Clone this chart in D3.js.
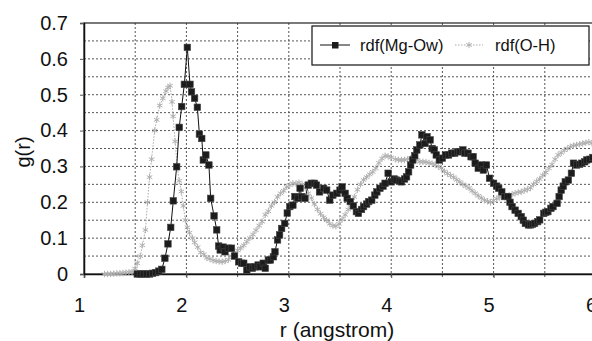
<!DOCTYPE html>
<html>
<head>
<meta charset="utf-8">
<script src="https://cdn.jsdelivr.net/npm/d3@7"></script>
<style>
  html, body { margin: 0; padding: 0; background: #fff; overflow: hidden; }
  #rdfChart { width: 592px; height: 341px; }
  text { font-family: "Liberation Sans", Arial, sans-serif; fill: #111; }
</style>
</head>
<body>
<div id="rdfChart"></div>
<script>
// tick values / labels
const xTicks = [1, 2, 3, 4, 5, 6];
const xGrid = [1.5, 2, 2.5, 3, 3.5, 4, 4.5, 5, 5.5, 6];
const yTicks = [0, 0.1, 0.2, 0.3, 0.4, 0.5, 0.6, 0.7];
const yTickLabels = ["0", "0.1", "0.2", "0.3", "0.4", "0.5", "0.6", "0.7"];
const yGrid = [0.05, 0.1, 0.15, 0.2, 0.25, 0.3, 0.35, 0.4, 0.45, 0.5, 0.55, 0.6, 0.65];
const seriesNames = ["rdf(Mg-Ow)", "rdf(O-H)"];
const xTitle = "r (angstrom)";
const yTitle = "g(r)";

// rdf(Mg-Ow): [r, g(r)]
const rdfMgOw = [
  [1.52,0],[1.55,0],[1.58,0],[1.61,0],[1.64,0],[1.67,0.002],[1.70,0.004],[1.73,0.008],[1.76,0.013],
  [1.79,0.044],[1.82,0.084],[1.847,0.13],[1.872,0.204],[1.905,0.299],[1.93,0.409],[1.954,0.467],
  [1.98,0.529],[2.009,0.632],[2.035,0.529],[2.05,0.508],[2.08,0.49],[2.107,0.465],[2.127,0.39],
  [2.15,0.378],[2.165,0.318],[2.19,0.332],[2.22,0.304],[2.237,0.211],[2.27,0.162],[2.296,0.123],
  [2.315,0.078],[2.33,0.067],[2.36,0.075],[2.377,0.062],[2.41,0.072],[2.44,0.072],[2.47,0.05],
  [2.51,0.034],[2.54,0.03],[2.56,0.03],[2.59,0.011],[2.62,0.02],[2.645,0.016],[2.67,0.02],[2.70,0.025],
  [2.72,0.02],[2.75,0.03],[2.77,0.016],[2.80,0.039],[2.82,0.039],[2.85,0.048],[2.865,0.062],[2.89,0.095],
  [2.91,0.109],[2.93,0.127],[2.96,0.141],[2.985,0.17],[3.01,0.188],[3.04,0.192],[3.06,0.216],[3.09,0.211],
  [3.11,0.239],[3.126,0.216],[3.158,0.211],[3.19,0.248],[3.22,0.253],[3.25,0.253],[3.27,0.248],[3.30,0.229],
  [3.34,0.239],[3.37,0.234],[3.40,0.206],[3.43,0.22],[3.47,0.225],[3.50,0.234],[3.52,0.243],[3.55,0.225],
  [3.57,0.211],[3.60,0.202],[3.63,0.19],[3.66,0.174],[3.68,0.169],[3.71,0.18],[3.73,0.188],[3.76,0.195],
  [3.78,0.202],[3.81,0.206],[3.84,0.22],[3.86,0.229],[3.89,0.239],[3.92,0.245],[3.94,0.253],[3.97,0.281],
  [4.0,0.257],[4.03,0.265],[4.05,0.262],[4.08,0.26],[4.10,0.257],[4.13,0.265],[4.15,0.271],[4.17,0.285],
  [4.19,0.304],[4.21,0.318],[4.23,0.33],[4.25,0.346],[4.28,0.36],[4.30,0.388],[4.33,0.364],[4.35,0.383],
  [4.38,0.374],[4.40,0.35],[4.42,0.346],[4.44,0.332],[4.47,0.318],[4.50,0.323],[4.53,0.332],[4.56,0.332],
  [4.59,0.337],[4.62,0.337],[4.65,0.341],[4.67,0.341],[4.70,0.346],[4.72,0.337],[4.75,0.337],[4.78,0.327],
  [4.80,0.327],[4.82,0.309],[4.85,0.295],[4.88,0.304],[4.90,0.29],[4.93,0.304],[4.96,0.267],[5.0,0.253],
  [5.03,0.245],[5.05,0.239],[5.08,0.229],[5.11,0.216],[5.14,0.216],[5.16,0.2],[5.18,0.188],[5.21,0.178],
  [5.24,0.169],[5.27,0.16],[5.29,0.15],[5.31,0.141],[5.34,0.137],[5.36,0.137],[5.38,0.139],[5.40,0.141],
  [5.43,0.146],[5.45,0.151],[5.49,0.169],[5.51,0.172],[5.53,0.174],[5.56,0.183],[5.58,0.188],[5.62,0.197],
  [5.64,0.216],[5.66,0.234],[5.68,0.245],[5.70,0.257],[5.73,0.262],[5.76,0.281],[5.78,0.309],[5.81,0.304],
  [5.84,0.306],[5.86,0.309],[5.89,0.313],[5.91,0.318],[5.94,0.32],[5.97,0.325],[6.0,0.33]
];

// rdf(O-H): [r, g(r)]
const rdfOH = [
  [1.20,0],[1.23,0],[1.26,0],[1.29,0.001],[1.32,0.002],[1.35,0.002],[1.38,0.003],[1.41,0.004],[1.44,0.005],
  [1.47,0.006],[1.50,0.015],[1.52,0.03],[1.55,0.05],[1.57,0.08],[1.60,0.123],[1.62,0.2],[1.64,0.27],
  [1.66,0.32],[1.69,0.40],[1.71,0.43],[1.74,0.47],[1.77,0.49],[1.80,0.51],[1.82,0.52],[1.84,0.525],
  [1.86,0.48],[1.87,0.44],[1.89,0.37],[1.91,0.30],[1.93,0.26],[1.95,0.23],[1.97,0.19],[1.99,0.15],
  [2.01,0.13],[2.03,0.115],[2.06,0.10],[2.08,0.088],[2.11,0.075],[2.14,0.06],[2.17,0.055],[2.20,0.045],
  [2.23,0.042],[2.26,0.038],[2.29,0.036],[2.32,0.035],[2.35,0.034],[2.38,0.036],[2.41,0.04],[2.44,0.05],
  [2.47,0.058],[2.50,0.066],[2.53,0.072],[2.56,0.08],[2.59,0.09],[2.62,0.10],[2.65,0.11],[2.68,0.122],
  [2.71,0.135],[2.74,0.146],[2.77,0.165],[2.80,0.175],[2.83,0.19],[2.86,0.2],[2.89,0.215],[2.92,0.225],
  [2.95,0.232],[2.98,0.243],[3.01,0.248],[3.04,0.253],[3.07,0.252],[3.10,0.255],[3.13,0.25],[3.16,0.24],
  [3.19,0.225],[3.22,0.212],[3.25,0.195],[3.28,0.18],[3.31,0.168],[3.34,0.158],[3.37,0.15],[3.40,0.14],
  [3.43,0.135],[3.46,0.133],[3.49,0.14],[3.52,0.152],[3.55,0.165],[3.58,0.18],[3.61,0.195],[3.64,0.215],
  [3.67,0.235],[3.70,0.25],[3.73,0.262],[3.76,0.27],[3.79,0.278],[3.82,0.285],[3.85,0.295],[3.88,0.31],
  [3.91,0.322],[3.94,0.33],[3.97,0.328],[4.00,0.325],[4.04,0.32],[4.07,0.318],[4.10,0.318],[4.13,0.318],
  [4.16,0.32],[4.19,0.323],[4.22,0.322],[4.25,0.318],[4.28,0.313],[4.31,0.313],[4.34,0.312],[4.37,0.31],
  [4.40,0.308],[4.43,0.305],[4.46,0.30],[4.49,0.295],[4.52,0.286],[4.55,0.28],[4.58,0.275],[4.61,0.27],
  [4.64,0.263],[4.67,0.257],[4.70,0.25],[4.73,0.245],[4.76,0.24],[4.79,0.232],[4.82,0.225],[4.85,0.218],
  [4.88,0.212],[4.91,0.206],[4.94,0.203],[4.97,0.2],[5.00,0.205],[5.03,0.21],[5.06,0.214],[5.09,0.216],
  [5.12,0.218],[5.15,0.22],[5.18,0.222],[5.21,0.225],[5.24,0.228],[5.27,0.229],[5.30,0.233],[5.33,0.236],
  [5.36,0.24],[5.39,0.25],[5.42,0.258],[5.45,0.265],[5.48,0.275],[5.51,0.283],[5.54,0.295],[5.57,0.305],
  [5.60,0.32],[5.63,0.332],[5.66,0.338],[5.69,0.345],[5.72,0.35],[5.75,0.355],[5.78,0.358],[5.81,0.36],
  [5.84,0.362],[5.87,0.364],[5.90,0.366],[5.93,0.368],[5.96,0.365],[6.0,0.36]
];

const width = 592, height = 341;
const margin = { top: 23, left: 84 };
const plotW = 512, plotH = 251;   // plot runs a little past the right edge

const svg = d3.select("#rdfChart")
  .append("svg")
  .attr("width", width)
  .attr("height", height);

const g = svg.append("g")
  .attr("transform", "translate(" + margin.left + "," + margin.top + ")");

const x = d3.scaleLinear().domain([1, 6]).range([0, plotW]);
const y = d3.scaleLinear().domain([0, 0.7]).range([plotH, 0]);

// grid lines (dotted)
g.append("g").selectAll("line").data(yGrid).enter().append("line")
  .attr("x1", 0).attr("x2", plotW)
  .attr("y1", d => y(d)).attr("y2", d => y(d))
  .attr("stroke", "#555").attr("stroke-width", 1).attr("stroke-dasharray", "2,2");
g.append("g").selectAll("line").data(xGrid).enter().append("line")
  .attr("x1", d => x(d)).attr("x2", d => x(d))
  .attr("y1", 0).attr("y2", plotH + 3)
  .attr("stroke", "#555").attr("stroke-width", 1).attr("stroke-dasharray", "2,2");

// frame
g.append("rect")
  .attr("x", 0).attr("y", 0).attr("width", plotW).attr("height", plotH)
  .attr("fill", "none").attr("stroke", "#222").attr("stroke-width", 1.2);

// axes
const xAxis = d3.axisBottom(x).tickValues(xTicks).tickFormat(d3.format("d"))
  .tickSize(4).tickPadding(20);
g.append("g")
  .attr("class", "xaxis")
  .attr("transform", "translate(0," + plotH + ")")
  .call(xAxis);

const yAxis = d3.axisLeft(y).tickValues(yTicks).tickFormat((d, i) => yTickLabels[i])
  .tickSize(4).tickPadding(12);
g.append("g")
  .attr("class", "yaxis")
  .call(yAxis);

svg.selectAll(".xaxis .domain, .yaxis .domain").attr("stroke", "#111").attr("stroke-width", 1.5);
svg.selectAll(".xaxis .tick line, .yaxis .tick line").attr("stroke", "#555");
svg.selectAll(".xaxis text").attr("font-size", 20).attr("dx", -5)
  .style("font-family", '"Liberation Sans", Arial, sans-serif').attr("fill", "#111");
svg.selectAll(".yaxis text").attr("font-size", 20)
  .style("font-family", '"Liberation Sans", Arial, sans-serif').attr("fill", "#111");

// axis titles
svg.append("text")
  .attr("x", margin.left + plotW / 2 - 3)
  .attr("y", 337)
  .attr("text-anchor", "middle")
  .attr("font-size", 21)
  .text(xTitle);

svg.append("text")
  .attr("transform", "translate(30," + 152 + ") rotate(-90)")
  .attr("text-anchor", "middle")
  .attr("font-size", 20)
  .text(yTitle);

const line = d3.line().x(d => x(d[0])).y(d => y(d[1]));

// rdf(O-H): light grey, dotted line, asterisk markers
g.append("path")
  .datum(rdfOH)
  .attr("d", line)
  .attr("fill", "none")
  .attr("stroke", "#aaa")
  .attr("stroke-width", 1)
  .attr("stroke-dasharray", "1.5,1.5");

const star = d3.symbol().type(d3.symbolAsterisk).size(28);
g.append("g").selectAll("path").data(rdfOH).enter().append("path")
  .attr("d", star)
  .attr("transform", d => "translate(" + x(d[0]) + "," + y(d[1]) + ")")
  .attr("fill", "none")
  .attr("stroke", "#b0b0b0")
  .attr("stroke-width", 1);

// rdf(Mg-Ow): black line, square markers
g.append("path")
  .datum(rdfMgOw)
  .attr("d", line)
  .attr("fill", "none")
  .attr("stroke", "#111")
  .attr("stroke-width", 1);

g.append("g").selectAll("rect").data(rdfMgOw).enter().append("rect")
  .attr("x", d => x(d[0]) - 3.25)
  .attr("y", d => y(d[1]) - 3.25)
  .attr("width", 6.5)
  .attr("height", 6.5)
  .attr("fill", "#1c1c1c")
  .attr("stroke", "#444")
  .attr("stroke-width", 0.6);

// legend
const legend = svg.append("g").attr("transform", "translate(312,26)");
legend.append("rect")
  .attr("width", 277).attr("height", 39)
  .attr("fill", "#fff").attr("stroke", "#111").attr("stroke-width", 1.2);

legend.append("line")
  .attr("x1", 8).attr("x2", 38).attr("y1", 19).attr("y2", 19)
  .attr("stroke", "#111").attr("stroke-width", 1);
legend.append("rect")
  .attr("x", 20).attr("y", 16).attr("width", 6.5).attr("height", 6.5)
  .attr("fill", "#1c1c1c");
legend.append("text")
  .attr("x", 48).attr("y", 25)
  .attr("font-size", 16.5)
  .text(seriesNames[0]);

legend.append("line")
  .attr("x1", 143).attr("x2", 171).attr("y1", 19).attr("y2", 19)
  .attr("stroke", "#aaa").attr("stroke-width", 1).attr("stroke-dasharray", "1.5,1.5");
legend.append("path")
  .attr("d", star)
  .attr("transform", "translate(157,19)")
  .attr("fill", "none").attr("stroke", "#b0b0b0");
legend.append("text")
  .attr("x", 183).attr("y", 25)
  .attr("font-size", 16.5)
  .text(seriesNames[1]);
</script>
</body>
</html>
